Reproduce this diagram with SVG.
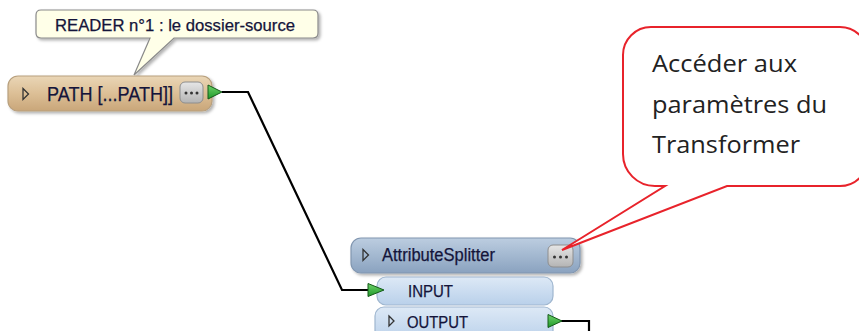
<svg xmlns="http://www.w3.org/2000/svg" width="859" height="331" viewBox="0 0 859 331">
<defs>
<linearGradient id="gTan" x1="0" y1="0" x2="0" y2="1"><stop offset="0" stop-color="#ead6b6"/><stop offset="0.5" stop-color="#dcbf96"/><stop offset="1" stop-color="#c9a679"/></linearGradient>
<linearGradient id="gBlue" x1="0" y1="0" x2="0" y2="1"><stop offset="0" stop-color="#bccde0"/><stop offset="0.5" stop-color="#a3b8d0"/><stop offset="1" stop-color="#8aa2bf"/></linearGradient>
<linearGradient id="gLight" x1="0" y1="0" x2="0" y2="1"><stop offset="0" stop-color="#dde9f6"/><stop offset="1" stop-color="#b9d0ea"/></linearGradient>
<linearGradient id="gBtn" x1="0" y1="0" x2="0" y2="1"><stop offset="0" stop-color="#e6e6e6"/><stop offset="1" stop-color="#b4b4b4"/></linearGradient>
<linearGradient id="gGreen" x1="0" y1="0" x2="0" y2="1"><stop offset="0" stop-color="#6fd26a"/><stop offset="1" stop-color="#1f9a2a"/></linearGradient>
<filter id="sh" x="-10%" y="-20%" width="130%" height="160%"><feDropShadow dx="2" dy="2" stdDeviation="1.5" flood-color="#000" flood-opacity="0.3"/></filter>
</defs>
<style>
.nt{font-family:"Liberation Sans",Arial,sans-serif;fill:#14143a;stroke:#14143a;stroke-width:0.25}
.btn{fill:url(#gBtn);stroke:#8e8e8e;stroke-width:1}
.dot{fill:#333}
.port{fill:url(#gGreen);stroke:#145a18;stroke-width:1}
.mk{fill:none;stroke:#333;stroke-width:1.3}
.wire{fill:none;stroke:#000;stroke-width:2.2;stroke-linejoin:miter}
</style>
<rect width="859" height="331" fill="#fff"/>

<g id="connectors">
<polyline class="wire" points="222,92 248,92 342,290 370,290"/>
<polyline class="wire" points="561,321 589,321 589,331"/>
</g>

<g id="reader-callout">
<path d="M41,10 H313 Q318,10 318,15 V33 Q318,38 313,38 H174 L134,75 L150,38 H41 Q36,38 36,33 V15 Q36,10 41,10 Z" fill="#ffffe8" stroke="#8a8a8a" stroke-width="1.2" filter="url(#sh)"/>
<text class="nt" x="55" y="31" font-size="16" textLength="240" lengthAdjust="spacingAndGlyphs">READER n°1 : le dossier-source</text>
</g>

<g id="path-node">
<rect x="8" y="76" width="204" height="35" rx="10" fill="url(#gTan)" stroke="#b8a07e" stroke-width="1.2" filter="url(#sh)"/>
<path class="mk" d="M23,88.5 L28.5,94 L23,99.5 Z"/>
<text class="nt" x="47" y="101" font-size="21" textLength="126" lengthAdjust="spacingAndGlyphs">PATH [...PATH]]</text>
<rect class="btn" x="180" y="82" width="23" height="21" rx="5"/>
<circle class="dot" cx="186" cy="93" r="1.5"/><circle class="dot" cx="191.5" cy="93" r="1.5"/><circle class="dot" cx="197" cy="93" r="1.5"/>
<path class="port" d="M208,85 L222,92 L208,99 Z"/>
</g>

<g id="attributesplitter-node">
<rect x="351" y="238" width="229" height="35" rx="10" fill="url(#gBlue)" stroke="#8196b0" stroke-width="1.2" filter="url(#sh)"/>
<path class="mk" d="M363,249.5 L368.5,255 L363,260.5 Z"/>
<text class="nt" x="382" y="261" font-size="18" textLength="113" lengthAdjust="spacingAndGlyphs">AttributeSplitter</text>
<rect class="btn" x="548" y="245" width="25" height="22" rx="5"/>
<circle class="dot" cx="554.5" cy="257" r="1.5"/><circle class="dot" cx="560.5" cy="257" r="1.5"/><circle class="dot" cx="566.5" cy="257" r="1.5"/>
</g>

<g id="input-port">
<rect x="377" y="277" width="176" height="28" rx="9" fill="url(#gLight)" stroke="#9fb6cf" stroke-width="1.2"/>
<text class="nt" x="408" y="297" font-size="17" textLength="45" lengthAdjust="spacingAndGlyphs">INPUT</text>
<path class="port" d="M368,283.5 L384,290 L368,296.5 Z"/>
</g>

<g id="output-port">
<rect x="375" y="307" width="178" height="34" rx="9" fill="url(#gLight)" stroke="#9fb6cf" stroke-width="1.2"/>
<path class="mk" d="M389,316 L394,321 L389,326 Z"/>
<text class="nt" x="407" y="328" font-size="16" textLength="61" lengthAdjust="spacingAndGlyphs">OUTPUT</text>
<path class="port" d="M548,314.5 L562,321 L548,327.5 Z"/>
</g>

<g id="transformer-callout">
<path d="M651,27 H840 A28,28 0 0 1 868,55 V158 A28,28 0 0 1 840,186 H727 L562,250 L665,186 H655 A32,32 0 0 1 623,154 V55 A28,28 0 0 1 651,27 Z" fill="#fff" stroke="#e8232b" stroke-width="2"/>
<g font-family="'Open Sans','Noto Sans',sans-serif" font-size="24" fill="#222">
<text x="652" y="72" textLength="145" lengthAdjust="spacingAndGlyphs">Accéder aux</text>
<text x="652" y="113" textLength="175" lengthAdjust="spacingAndGlyphs">paramètres du</text>
<text x="652" y="153" textLength="148" lengthAdjust="spacingAndGlyphs">Transformer</text>
</g>
</g>
</svg>
